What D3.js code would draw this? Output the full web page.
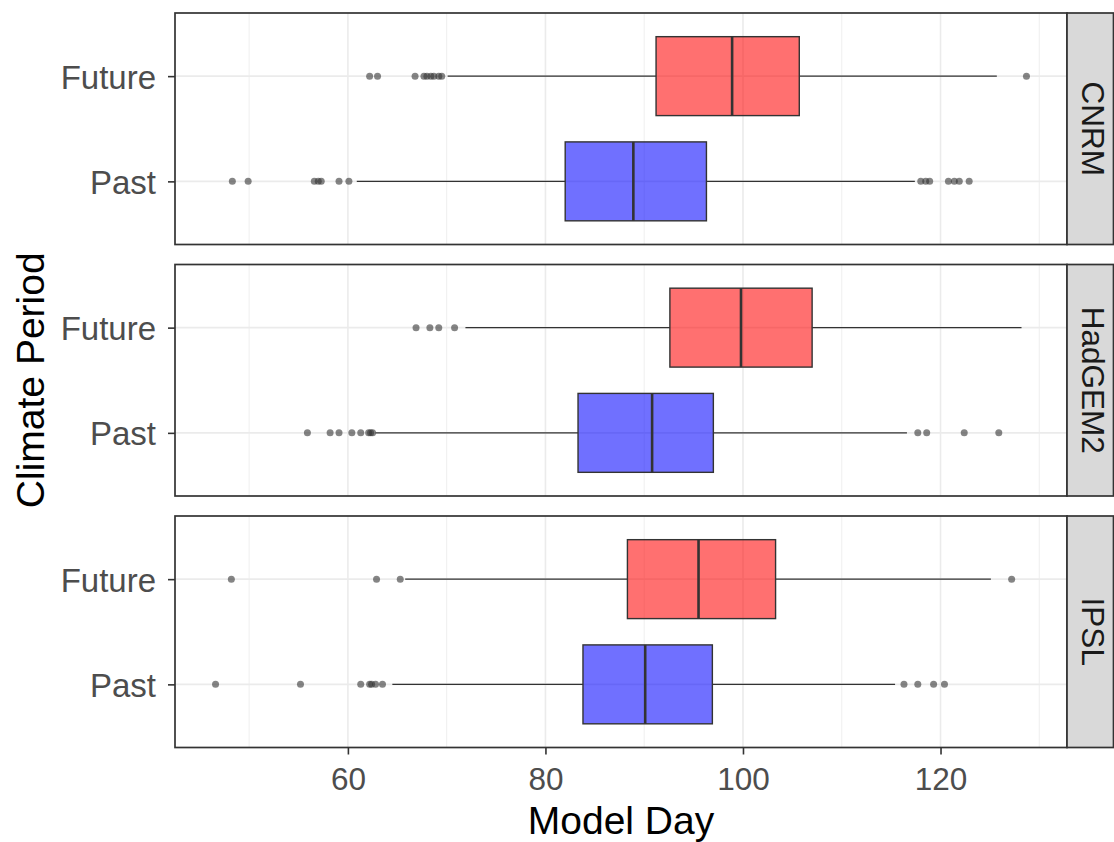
<!DOCTYPE html>
<html>
<head>
<meta charset="utf-8">
<script src="https://cdn.jsdelivr.net/npm/d3@7"></script>
<style>
  html, body { margin: 0; padding: 0; background: #fff; }
  svg { display: block; font-family: "Liberation Sans", Arial, sans-serif; }
</style>
</head>
<body>
<svg id="chart" width="1114" height="842"></svg>
<script>
// Climate models (facets) and periods (rows within each facet)
const models = ["CNRM", "HadGEM2", "IPSL"];
const periods = ["Future", "Past"];

// Box statistics per model, in model order
const futureLow    = [70.1, 71.9, 65.8];
const futureQ1     = [91.2, 92.6, 88.3];
const futureMedian = [98.9, 99.8, 95.5];
const futureQ3     = [105.7, 107.0, 103.3];
const futureHigh   = [125.7, 128.2, 125.1];

const pastLow    = [60.9, 62.8, 64.5];
const pastQ1     = [82.0, 83.3, 83.8];
const pastMedian = [88.9, 90.8, 90.1];
const pastQ3     = [96.3, 97.0, 96.9];
const pastHigh   = [117.4, 116.6, 115.4];

// Outlying model days per model
const futureOutliers = [
  [62.2, 63.0, 66.8, 67.7, 68.0, 68.4, 68.7, 69.2, 69.5, 128.7],
  [66.9, 68.3, 69.2, 70.8],
  [48.2, 62.9, 65.3, 127.2]
];
const pastOutliers = [
  [48.3, 49.9, 56.6, 57.0, 57.3, 59.1, 60.1, 118.0, 118.5, 118.9, 120.8, 121.4, 121.9, 122.9],
  [55.9, 58.2, 59.1, 60.4, 61.3, 62.1, 62.3, 62.5, 117.7, 118.6, 122.4, 125.9],
  [46.6, 55.2, 61.3, 62.2, 62.4, 62.8, 63.5, 116.3, 117.7, 119.3, 120.4]
];

const xMajorTicks = [60, 80, 100, 120];
const xMinorTicks = [50, 70, 90, 110, 130];

const fillColor = { Future: "#ff0000", Past: "#0000ff" };

// Build rows for drawing
const boxes = [];
models.forEach((m, i) => {
  boxes.push({ model: m, period: "Future", low: futureLow[i], q1: futureQ1[i], med: futureMedian[i], q3: futureQ3[i], high: futureHigh[i], out: futureOutliers[i] });
  boxes.push({ model: m, period: "Past", low: pastLow[i], q1: pastQ1[i], med: pastMedian[i], q3: pastQ3[i], high: pastHigh[i], out: pastOutliers[i] });
});

// Layout
const left = 175, right = 1067, stripRight = 1113.5;
const panelTop = 13, panelH = 231.5, panelGap = 20;

const svg = d3.select("#chart");

// x domain: data range expanded by 5% on both sides
const allVals = boxes.flatMap(b => [b.low, b.high, ...b.out]);
const [dMin, dMax] = d3.extent(allVals);
const pad = (dMax - dMin) * 0.05;
const x = d3.scaleLinear().domain([dMin - pad, dMax + pad]).range([left, right]);

const panelY = d3.scaleBand().domain(models).range([panelTop, panelTop + 3 * panelH + 2 * panelGap])
  .paddingInner(panelGap / (panelH + panelGap)).paddingOuter(0);

models.forEach(m => {
  const top = panelY(m);
  const bottom = top + panelY.bandwidth();
  const y = d3.scalePoint().domain(periods).range([top, bottom]).padding(0.6);
  const boxH = y.step() * 0.75;
  const g = svg.append("g");

  // background
  g.append("rect").attr("x", left).attr("y", top).attr("width", right - left).attr("height", bottom - top).attr("fill", "#fff");

  // grid
  g.selectAll(".minor").data(xMinorTicks).join("line")
    .attr("x1", d => x(d)).attr("x2", d => x(d)).attr("y1", top).attr("y2", bottom)
    .attr("stroke", "#ebebeb").attr("stroke-width", 0.8);
  g.selectAll(".major").data(xMajorTicks).join("line")
    .attr("x1", d => x(d)).attr("x2", d => x(d)).attr("y1", top).attr("y2", bottom)
    .attr("stroke", "#ebebeb").attr("stroke-width", 1.6);
  g.selectAll(".hgrid").data(periods).join("line")
    .attr("x1", left).attr("x2", right).attr("y1", d => y(d)).attr("y2", d => y(d))
    .attr("stroke", "#ebebeb").attr("stroke-width", 1.6);

  const rows = boxes.filter(b => b.model === m);

  // whiskers
  g.selectAll(".wl").data(rows).join("line")
    .attr("x1", d => x(d.low)).attr("x2", d => x(d.q1)).attr("y1", d => y(d.period)).attr("y2", d => y(d.period))
    .attr("stroke", "#333").attr("stroke-width", 1.4);
  g.selectAll(".wh").data(rows).join("line")
    .attr("x1", d => x(d.q3)).attr("x2", d => x(d.high)).attr("y1", d => y(d.period)).attr("y2", d => y(d.period))
    .attr("stroke", "#333").attr("stroke-width", 1.4);

  // boxes
  g.selectAll(".box").data(rows).join("rect")
    .attr("x", d => x(d.q1)).attr("width", d => x(d.q3) - x(d.q1))
    .attr("y", d => y(d.period) - boxH / 2).attr("height", boxH)
    .attr("fill", d => fillColor[d.period]).attr("fill-opacity", 0.56)
    .attr("stroke", "#333").attr("stroke-width", 1.4);

  // medians
  g.selectAll(".med").data(rows).join("line")
    .attr("x1", d => x(d.med)).attr("x2", d => x(d.med))
    .attr("y1", d => y(d.period) - boxH / 2).attr("y2", d => y(d.period) + boxH / 2)
    .attr("stroke", "#333").attr("stroke-width", 2.6);

  // outliers
  rows.forEach(r => {
    g.selectAll(null).data(r.out).join("circle")
      .attr("cx", d => x(d)).attr("cy", y(r.period)).attr("r", 3.5)
      .attr("fill", "#333").attr("fill-opacity", 0.6);
  });

  // panel border
  g.append("rect").attr("x", left).attr("y", top).attr("width", right - left).attr("height", bottom - top)
    .attr("fill", "none").attr("stroke", "#333").attr("stroke-width", 1.7);

  // facet strip
  g.append("rect").attr("x", right).attr("y", top).attr("width", stripRight - right).attr("height", bottom - top)
    .attr("fill", "#d9d9d9").attr("stroke", "#333").attr("stroke-width", 1.7);
  g.append("text")
    .attr("transform", `translate(${right + 15},${(top + bottom) / 2}) rotate(90)`)
    .attr("text-anchor", "middle").attr("font-size", 31.5).attr("fill", "#1a1a1a")
    .text(m);

  // y axis
  const yAxis = g.append("g").attr("transform", `translate(${left},0)`)
    .call(d3.axisLeft(y).tickSize(7).tickPadding(12));
  yAxis.select(".domain").remove();
  yAxis.selectAll(".tick line").attr("stroke", "#333").attr("stroke-width", 1.6);
  yAxis.selectAll(".tick text").attr("font-size", 33).attr("fill", "#4d4d4d")
    .attr("font-family", "Liberation Sans, Arial, sans-serif").attr("dy", "0.36em");
});

// x axis under the last panel
const lastBottom = panelY(models[models.length - 1]) + panelY.bandwidth();
const xAxis = svg.append("g").attr("transform", `translate(0,${lastBottom})`)
  .call(d3.axisBottom(x).tickValues(xMajorTicks).tickSize(7).tickPadding(13));
xAxis.select(".domain").remove();
xAxis.selectAll(".tick line").attr("stroke", "#333").attr("stroke-width", 1.6);
xAxis.selectAll(".tick text").attr("font-size", 31.5).attr("fill", "#4d4d4d")
  .attr("font-family", "Liberation Sans, Arial, sans-serif");

// axis titles
svg.append("text").attr("x", (left + right) / 2).attr("y", 834)
  .attr("text-anchor", "middle").attr("font-size", 39).attr("fill", "#000").text("Model Day");
svg.append("text")
  .attr("transform", `translate(44,${(panelTop + lastBottom) / 2}) rotate(-90)`)
  .attr("text-anchor", "middle").attr("font-size", 39).attr("fill", "#000").text("Climate Period");
</script>
</body>
</html>
